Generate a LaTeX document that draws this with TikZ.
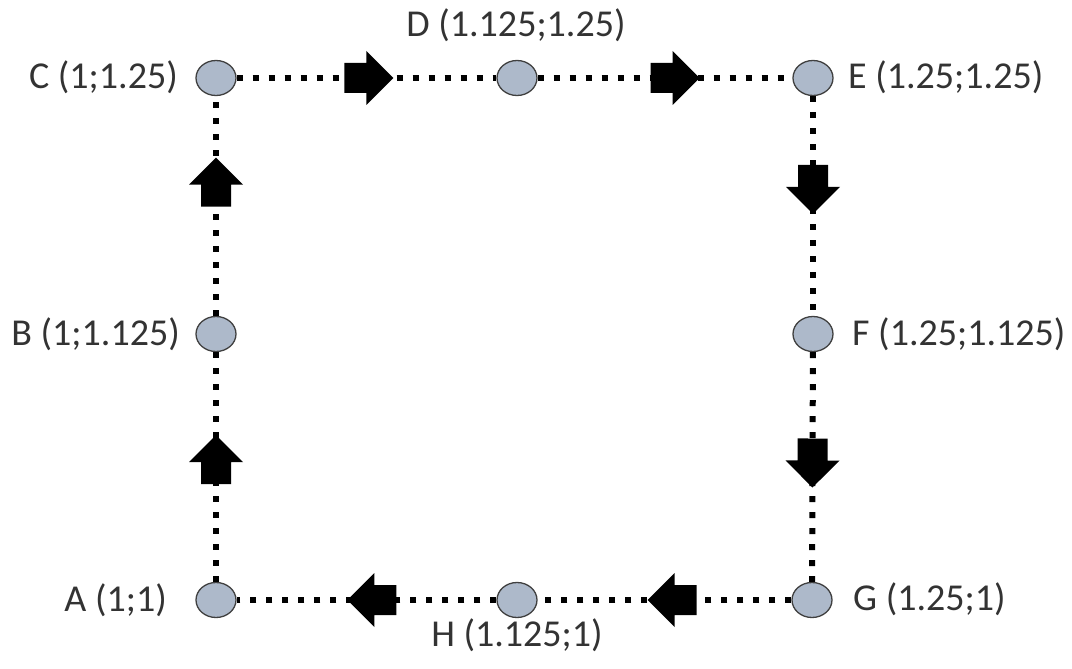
\documentclass[tikz,border=0pt]{standalone}
\usepackage{fontspec}
\setmainfont{Carlito}
\usetikzlibrary{shapes.arrows,shapes.geometric}
\definecolor{ptfill}{HTML}{ADB9CA}
\definecolor{ptline}{HTML}{404040}
\definecolor{txt}{HTML}{333333}
\begin{document}
\begin{tikzpicture}[x=1pt,y=-1pt,
  pt/.style={ellipse,draw=ptline,line width=1.3pt,fill=ptfill,minimum width=40pt,minimum height=35pt,inner sep=0pt},
  lbl/.style={inner sep=0pt,text=txt,font=\fontsize{38}{45}\selectfont},
  dotline/.style={line width=6pt,dash pattern=on 6pt off 10pt},
  blockarrow/.style={single arrow,fill=black,draw=none,inner sep=12pt,minimum height=49pt,single arrow head extend=12pt,sloped,allow upside down,single arrow tip angle=90}
]
\useasboundingbox (0,0) rectangle (1072,669);
\node[pt] (A) at (216,600) {};
\node[pt] (B) at (216,334) {};
\node[pt] (C) at (216,78) {};
\node[pt] (D) at (517,78) {};
\node[pt] (E) at (813,78) {};
\node[pt] (F) at (813,334) {};
\node[pt] (G) at (812,600) {};
\node[pt] (H) at (517,600) {};

\node[lbl,anchor=east] (lA) at (167,600) {A (1;1)};
\node[lbl,anchor=east] (lB) at (180,334) {B (1;1.125)};
\node[lbl,anchor=east] (lC) at (178,77) {C (1;1.25)};
\node[lbl] (lD) at (516,25) {D (1.125;1.25)};
\node[lbl,anchor=west] (lE) at (848,77) {E (1.25;1.25)};
\node[lbl,anchor=west] (lF) at (852,334) {F (1.25;1.125)};
\node[lbl,anchor=west] (lG) at (853,599) {G (1.25;1)};
\node[lbl] (lH) at (517,635) {H (1.125;1)};

\draw[dotline] (C) -- node[blockarrow,pos=0.48] (a1) {} (D);
\draw[dotline] (D) -- node[blockarrow,pos=0.51] (a2) {} (E);
\draw[dotline] (E) -- node[blockarrow,pos=0.39] (a3) {} (F);
\draw[dotline] (F) -- node[blockarrow,pos=0.45] (a4) {} (G);
\draw[dotline] (G) -- node[blockarrow,pos=0.44] (a5) {} (H);
\draw[dotline] (H) -- node[blockarrow,pos=0.45] (a6) {} (A);
\draw[dotline] (A) -- node[blockarrow,pos=0.50] (a7) {} (B);
\draw[dotline] (B) -- node[blockarrow,pos=0.575] (a8) {} (C);
\end{tikzpicture}
\end{document}
